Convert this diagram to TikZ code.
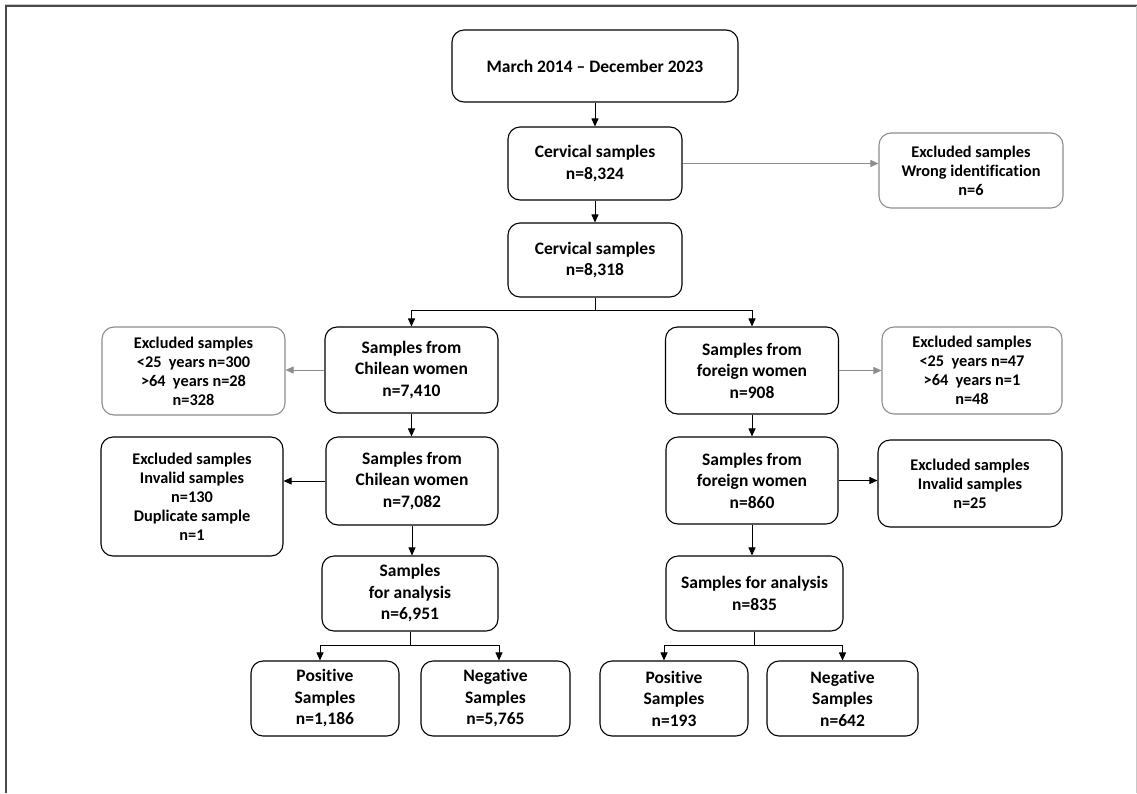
\documentclass[tikz,border=0pt]{standalone}
\usepackage{fontspec}
\setmainfont{Carlito}[Ligatures=NoCommon]
\usetikzlibrary{arrows.meta}
\definecolor{framec}{HTML}{4A4A4A}
\definecolor{lgray}{HTML}{8C8C8C}
\definecolor{rgray}{HTML}{C8C8C8}
\begin{document}
\begin{tikzpicture}[x=1pt,y=-1pt,
  wh/.style 2 args={minimum width=#1,minimum height=#2},
  box/.style={draw=black, line width=1.1pt, rounded corners=12pt, align=center,
    inner sep=0pt, text=black, font=\bfseries\fontsize{17.5}{21.5}\selectfont},
  xbox/.style={box, font=\bfseries\fontsize{16.3}{19}\selectfont},
  gbox/.style={xbox, draw=lgray},
  arr/.style={-{Triangle[length=8pt,width=7pt]}, line width=0.9pt, draw=black},
  garr/.style={-{Triangle[length=8pt,width=7pt]}, line width=0.9pt, draw=lgray},
  ln/.style={line width=0.9pt, draw=black}]
\useasboundingbox (0,0) rectangle (1137,793);
% frame
\draw[rgray, line width=1pt] (5,4.3) -- (1137,4.3);
\draw[framec, line width=2.4pt] (6.2,793) -- (6.2,6.2) -- (1137,6.2);
\draw[rgray, line width=1pt] (1136,6) -- (1136,793);

% nodes
\node[box, wh={286pt}{72pt}] (march) at (595,66) {March 2014 -- December 2023};
\node[box, wh={174pt}{73pt}] (cs1) at (595,163.5) {Cervical samples\\n=8,324};
\node[gbox, wh={184pt}{75pt}] (wi) at (971,170.5) {Excluded samples\\Wrong identification\\n=6};
\node[box, wh={174pt}{74pt}] (cs2) at (595,260) {Cervical samples\\n=8,318};

\node[box, wh={173pt}{86pt}] (ch1) at (411.5,370) {Samples from\\Chilean women\\n=7,410};
\node[gbox, wh={183pt}{88pt}] (ex1L) at (193.5,371) {Excluded samples\\<25\hspace{0.45em}years n=300\\>64\hspace{0.45em}years n=28\\n=328};
\node[box, wh={173pt}{87pt}] (fo1) at (752,370.5) {Samples from\\foreign women\\n=908};
\node[gbox, wh={180pt}{87pt}] (ex1R) at (972,370.5) {Excluded samples\\<25\hspace{0.45em}years n=47\\>64\hspace{0.45em}years n=1\\n=48};

\node[box, wh={172pt}{88pt}] (ch2) at (412,481) {Samples from\\Chilean women\\n=7,082};
\node[xbox, wh={182pt}{119pt}] (ex2L) at (192,496.5) {Excluded samples\\Invalid samples\\n=130\\Duplicate sample\\n=1};
\node[box, wh={172pt}{87pt}] (fo2) at (752,480.5) {Samples from\\foreign women\\n=860};
\node[xbox, wh={184pt}{87pt}] (ex2R) at (970,483.5) {Excluded samples\\Invalid samples\\n=25};

\node[box, wh={176pt}{75pt}] (an1) at (410,593.5) {Samples\\for analysis\\n=6,951};
\node[box, wh={177pt}{75pt}] (an2) at (754.5,593.5) {Samples for analysis\\n=835};

\node[box, wh={148pt}{75pt}] (pos1) at (325,698.5) {Positive\\Samples\\n=1,186};
\node[box, wh={149pt}{75pt}] (neg1) at (495.5,698.5) {Negative\\Samples\\n=5,765};
\node[box, wh={148pt}{75pt}] (pos2) at (674,698.5) {Positive\\Samples\\n=193};
\node[box, wh={151pt}{75pt}] (neg2) at (842.5,698.5) {Negative\\Samples\\n=642};

% connectors
\draw[arr] (march) -- (cs1);
\draw[garr] (cs1.east) -- (cs1.east -| wi.west);
\draw[arr] (cs1) -- (cs2);
\coordinate (sp) at (595,310);
\draw[ln] (cs2.south) -- (sp);
\draw[arr] (sp) -| (ch1.north);
\draw[arr] (sp) -| (fo1.north);
\draw[garr] (ch1.west) -- (ch1.west -| ex1L.east);
\draw[garr] (fo1.east) -- (fo1.east -| ex1R.west);
\draw[arr] (ch1.south) -- (ch1.south |- ch2.north);
\draw[arr] (fo1.south) -- (fo1.south |- fo2.north);
\draw[arr] (ch2.west) -- (ch2.west -| ex2L.east);
\draw[arr] (fo2.east) -- (fo2.east -| ex2R.west);
\draw[arr] (ch2.south) -- (ch2.south |- an1.north);
\draw[arr] (fo2.south) -- (fo2.south |- an2.north);

\coordinate (sp1) at (410,645);
\draw[ln] (an1.south) -- (sp1);
\draw[arr] (sp1) -| ([xshift=-5pt]pos1.north);
\draw[arr] (sp1) -| ([xshift=3.5pt]neg1.north);
\coordinate (sp2) at (754.5,645);
\draw[ln] (an2.south) -- (sp2);
\draw[arr] (sp2) -| ([xshift=-10pt]pos2.north);
\draw[arr] (sp2) -| (neg2.north);
\end{tikzpicture}
\end{document}
